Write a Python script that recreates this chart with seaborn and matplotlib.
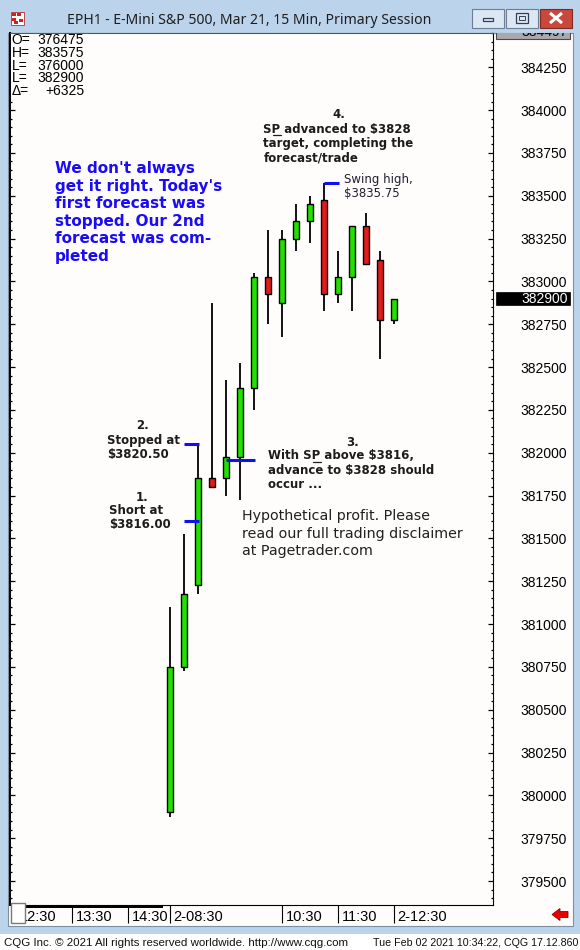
import numpy as np
import pandas as pd
import matplotlib
matplotlib.use("Agg")
import matplotlib.pyplot as plt
import matplotlib.patches as mpatches
import matplotlib.lines as mlines
from matplotlib.ticker import MultipleLocator, FuncFormatter
from matplotlib.transforms import ScaledTranslation
import seaborn as sns

# ---- EPH1 (E-mini S&P 500, Mar 21), 15-minute bars of the Feb 02 primary session ----
bar_time = ["08:30", "08:45", "09:00", "09:15", "09:30", "09:45", "10:00", "10:15", "10:30",
            "10:45", "11:00", "11:15", "11:30", "11:45", "12:00", "12:15", "12:30"]
bar_open = [3799.00, 3807.50, 3812.25, 3818.50, 3818.50, 3819.75, 3823.75, 3830.25, 3828.75,
            3832.50, 3833.50, 3834.75, 3829.25, 3830.25, 3833.25, 3831.25, 3827.75]
bar_high = [3811.00, 3815.25, 3820.50, 3828.75, 3824.25, 3825.25, 3830.50, 3833.00, 3833.00,
            3834.50, 3835.00, 3835.75, 3831.75, 3833.25, 3834.00, 3831.75, 3829.00]
bar_low = [3798.75, 3807.25, 3811.75, 3818.00, 3817.50, 3817.25, 3822.50, 3827.50, 3826.75,
           3831.75, 3832.25, 3828.25, 3828.75, 3828.25, 3831.00, 3825.50, 3827.50]
bar_close = [3807.50, 3811.75, 3818.50, 3818.00, 3819.75, 3823.75, 3830.25, 3829.25, 3832.50,
             3833.50, 3834.50, 3829.25, 3830.25, 3833.25, 3831.00, 3827.75, 3829.00]

# time axis: bar offset relative to the 08:30 bar, and its label
time_tick_pos = [-11, -7, -3, 0, 8, 12, 16]
time_tick_lab = ["12:30", "13:30", "14:30", "2-08:30", "10:30", "11:30", "2-12:30"]

# session summary (top-left readout)
summary_keys = ["O=", "H=", "L=", "L=", "\u0394="]
summary_vals = ["376475", "383575", "376000", "382900", "+6325"]

# trade levels
short_price = 3816.00
stop_price = 3820.50
setup_level = 3819.60
swing_high = 3835.75
last_price = 3829.00
scale_top = 3844.97

GREEN = "#22e000"
RED = "#e31b1b"
BLUE = "#1010f0"
TXT = "#1c1c1c"
FRAME = "#bcd3ec"
PANEL = "#fffcfc"

sns.set_theme(style="white")
plt.rcParams["font.family"] = ["Liberation Sans", "DejaVu Sans"]

W, H = 580, 950
fig = plt.figure(figsize=(W / 100, H / 100), dpi=100)
fig.patch.set_facecolor(FRAME)


def frect(x0, y0, x1, y1, z=-5, **kw):
    r = mpatches.Rectangle((x0 / W, 1 - y1 / H), (x1 - x0) / W, (y1 - y0) / H,
                           transform=fig.transFigure, zorder=z, **kw)
    fig.add_artist(r)
    return r


def fline(xs, ys, z=6, **kw):
    ln = mlines.Line2D([x / W for x in xs], [1 - y / H for y in ys],
                       transform=fig.transFigure, zorder=z, **kw)
    fig.add_artist(ln)
    return ln


def ftext(x, y, s, size, weight="normal", color=TXT, ha="left", va="baseline",
          family=("DejaVu Sans",), z=8, **kw):
    return fig.text(x / W, 1 - y / H, s, fontsize=size, fontweight=weight, color=color,
                    ha=ha, va=va, family=list(family), parse_math=False, zorder=z, **kw)


# ---- window chrome ----
frect(8, 33, 573, 926, facecolor=PANEL, edgecolor="#7f8fa0", lw=0.8, z=-8)
frect(0, 934, 580, 950, facecolor="white", edgecolor="none", z=-8)
ftext(249, 24, "EPH1 - E-Mini S&P 500, Mar 21, 15 Min, Primary Session", 10.1,
      color="#1e1e1e", ha="center", family=("Noto Sans", "DejaVu Sans"))
# icon
frect(11, 12, 24, 25, facecolor="white", edgecolor="#b03030", lw=0.6, z=2)
for (a, b) in [(12, 13), (17, 13), (12, 18), (19, 19), (14, 21)]:
    frect(a, b, a + 4, b + 3, facecolor="#d42020", edgecolor="none", z=3)
# minimise / restore / close
frect(472, 9, 504, 28, facecolor="#dce7f4", edgecolor="#6c7e96", lw=0.8, z=2)
frect(483, 18, 493, 21, facecolor="none", edgecolor="#33404f", lw=0.9, z=3)
frect(506, 9, 538, 28, facecolor="#dce7f4", edgecolor="#6c7e96", lw=0.8, z=2)
frect(516, 13, 528, 23, facecolor="none", edgecolor="#33404f", lw=0.9, z=3)
frect(519, 16, 525, 20, facecolor="none", edgecolor="#33404f", lw=0.7, z=3)
frect(540, 9, 572, 28, facecolor="#c9473b", edgecolor="#7b2a22", lw=0.8, z=2)
fline([550, 562], [13, 23], color="white", lw=2.2, solid_capstyle="butt")
fline([550, 562], [23, 13], color="white", lw=2.2, solid_capstyle="butt")

# status bar
ftext(4, 946, "CQG Inc. \u00a9 2021 All rights reserved worldwide. http://www.cqg.com", 8.25,
      color="#101010", family=("Liberation Sans", "DejaVu Sans"))
ftext(578, 946, "Tue Feb 02 2021 10:34:22, CQG 17.12.860", 7.7, color="#101010", ha="right",
      family=("Liberation Sans", "DejaVu Sans"))

# ---- price chart ----
ax = fig.add_axes([9.5 / W, 1 - 905 / H, (493 - 9.5) / W, (905 - 33) / H])
ax.set_facecolor(PANEL)

df = pd.DataFrame({"time": bar_time, "open": bar_open, "high": bar_high,
                   "low": bar_low, "close": bar_close})
df["i"] = np.arange(len(df))
up = df["close"] >= df["open"]

ax.vlines(df["i"], df["low"], df["high"], color="black", lw=1.3, zorder=2)
ax.bar(df["i"], (df["close"] - df["open"]).abs(), bottom=df[["open", "close"]].min(axis=1),
       width=0.37, color=np.where(up, GREEN, RED), edgecolor="black", linewidth=1.0, zorder=3)

# trade markers
ax.hlines([short_price, stop_price], 1, 2.05, color=BLUE, lw=2.2, zorder=4)
ax.hlines(setup_level, 4, 6.05, color=BLUE, lw=2.2, zorder=4)
ax.hlines(swing_high, 11, 12.1, color=BLUE, lw=2.2, zorder=4)

ax.set_xlim(-11.46, 23.07)
ax.set_ylim(3793.60, 3844.50)

ax.yaxis.set_major_locator(MultipleLocator(2.5))
ax.yaxis.set_minor_locator(MultipleLocator(0.5))
ax.yaxis.set_major_formatter(FuncFormatter(lambda v, _: f"{round(v * 100):d}"))
ax.tick_params(axis="y", which="both", direction="in", left=True, right=True,
               labelleft=False, labelright=True, colors="black")
ax.tick_params(axis="y", which="major", length=3.6, width=0.9, pad=20, labelsize=10)
ax.tick_params(axis="y", which="minor", length=1.7, width=0.9)

ax.set_xticks(time_tick_pos)
ax.set_xticklabels(time_tick_lab)
ax.tick_params(axis="x", which="major", direction="out", length=13, width=0.8, pad=-9.5,
               labelsize=10.5, bottom=True, colors="black")
shift = ScaledTranslation(3.5 / 100, 0, fig.dpi_scale_trans)
for lab in ax.get_xticklabels():
    lab.set_ha("left")
    lab.set_transform(lab.get_transform() + shift)

ax.spines["left"].set_color("black")
ax.spines["left"].set_linewidth(1.4)
for side in ["right", "bottom"]:
    ax.spines[side].set_color("black")
    ax.spines[side].set_linewidth(0.8)
ax.spines["top"].set_color("#555555")
ax.spines["top"].set_linewidth(0.8)
ax.grid(False)

# price-scale highlight boxes (top of scale, last trade)
rax = fig.add_axes([493 / W, 1 - 905 / H, (572 - 493) / W, (905 - 33) / H])
rax.set_xlim(0, 1)
rax.set_ylim(ax.get_ylim())
rax.axis("off")
rax.add_patch(mpatches.Rectangle((0.04, scale_top - 0.83), 0.93, 0.83 + 0.5, facecolor="#a9a9a9",
                                 edgecolor="#4a4a4a", lw=0.8, clip_on=True))
rax.text(0.354, scale_top - 0.41, f"{round(scale_top * 100):d}", fontsize=10, color="black",
         va="center", ha="left", clip_on=True)
rax.add_patch(mpatches.Rectangle((0.04, last_price - 0.37), 0.93, 0.74, facecolor="black",
                                 edgecolor="black", lw=0.5, clip_on=False))
rax.text(0.354, last_price, f"{round(last_price * 100):d}", fontsize=10, color="white",
         va="center", ha="left")

# scroll bar, corner box and jump arrow beneath the chart
frect(24, 904.5, 163, 908, facecolor="black", edgecolor="none", z=6)
frect(11, 903, 24.5, 923, facecolor="white", edgecolor="#7a7a7a", lw=1.0, z=7)
arrow = mpatches.Polygon([((x) / W, 1 - y / H) for x, y in
                          [(552, 914.5), (560, 908.5), (560, 911.5), (568, 911.5),
                           (568, 917.5), (560, 917.5), (560, 920.5)]],
                         closed=True, transform=fig.transFigure, facecolor="#e60000",
                         edgecolor="#9a0000", lw=0.6, zorder=7)
fig.add_artist(arrow)

# ---- session summary readout (on its own backing box) ----
frect(11, 34, 88, 99, facecolor=PANEL, edgecolor="none", z=5)
for k, (key, val) in enumerate(zip(summary_keys, summary_vals)):
    yb = 44.3 + 12.6 * k
    ftext(11.5, yb, key, 10, color="black", family=("Liberation Sans", "DejaVu Sans"))
    ftext(84, yb, val, 10, color="black", ha="right", family=("Liberation Sans", "DejaVu Sans"))

# ---- commentary ----
blue_lines = ["We don't always", "get it right. Today's", "first forecast was",
              "stopped. Our 2nd", "forecast was com-", "pleted"]
for k, ln in enumerate(blue_lines):
    ftext(55, 173.3 + 17.5 * k, ln, 11, weight="bold", color="#1a0cf5")

renderer = fig.canvas.get_renderer()


def text_width(s, size, weight):
    t = fig.text(0, 0, s, fontsize=size, fontweight=weight, family=["DejaVu Sans"],
                 parse_math=False)
    w = t.get_window_extent(renderer).width
    t.remove()
    return w


def note(num, num_cx, left, bases, lines, size=8.5, underline=None):
    ftext(num_cx, bases[0], num, size, weight="bold", ha="center")
    for b, ln in zip(bases[1:], lines):
        ftext(left, b, ln, size, weight="bold")
    if underline is not None:
        row, pre = underline
        x0 = left + text_width(pre, size, "bold") + 1
        x1 = left + text_width(pre + "P", size, "bold") + 0.5
        yb = bases[row + 1] + 2
        fline([x0, x1], [yb, yb], color=TXT, lw=0.9)


note("4.", 338.5, 263.3, [118.3, 132.7, 146.9, 161.1],
     ["SP advanced to $3828", "target, completing the", "forecast/trade"], underline=(0, "S"))
note("2.", 142.5, 107.3, [429.3, 444.3, 458.0], ["Stopped at", "$3820.50"])
note("1.", 142.5, 109.3, [500.7, 514.3, 527.9], ["Short at", "$3816.00"])
note("3.", 352.5, 268.3, [445.7, 459.5, 473.7, 487.9],
     ["With SP above $3816,", "advance to $3828 should", "occur ..."], underline=(0, "With S"))

ftext(344.3, 182.7, "Swing high,", 8.5, color="#202030")
ftext(344.3, 196.7, "$3835.75", 8.5, color="#202030")

for k, ln in enumerate(["Hypothetical profit. Please", "read our full trading disclaimer",
                        "at Pagetrader.com"]):
    ftext(241.7, 520 + 17.7 * k, ln, 10.3, color="#202020")

fig.savefig("out.png", dpi=100, facecolor=fig.get_facecolor())
